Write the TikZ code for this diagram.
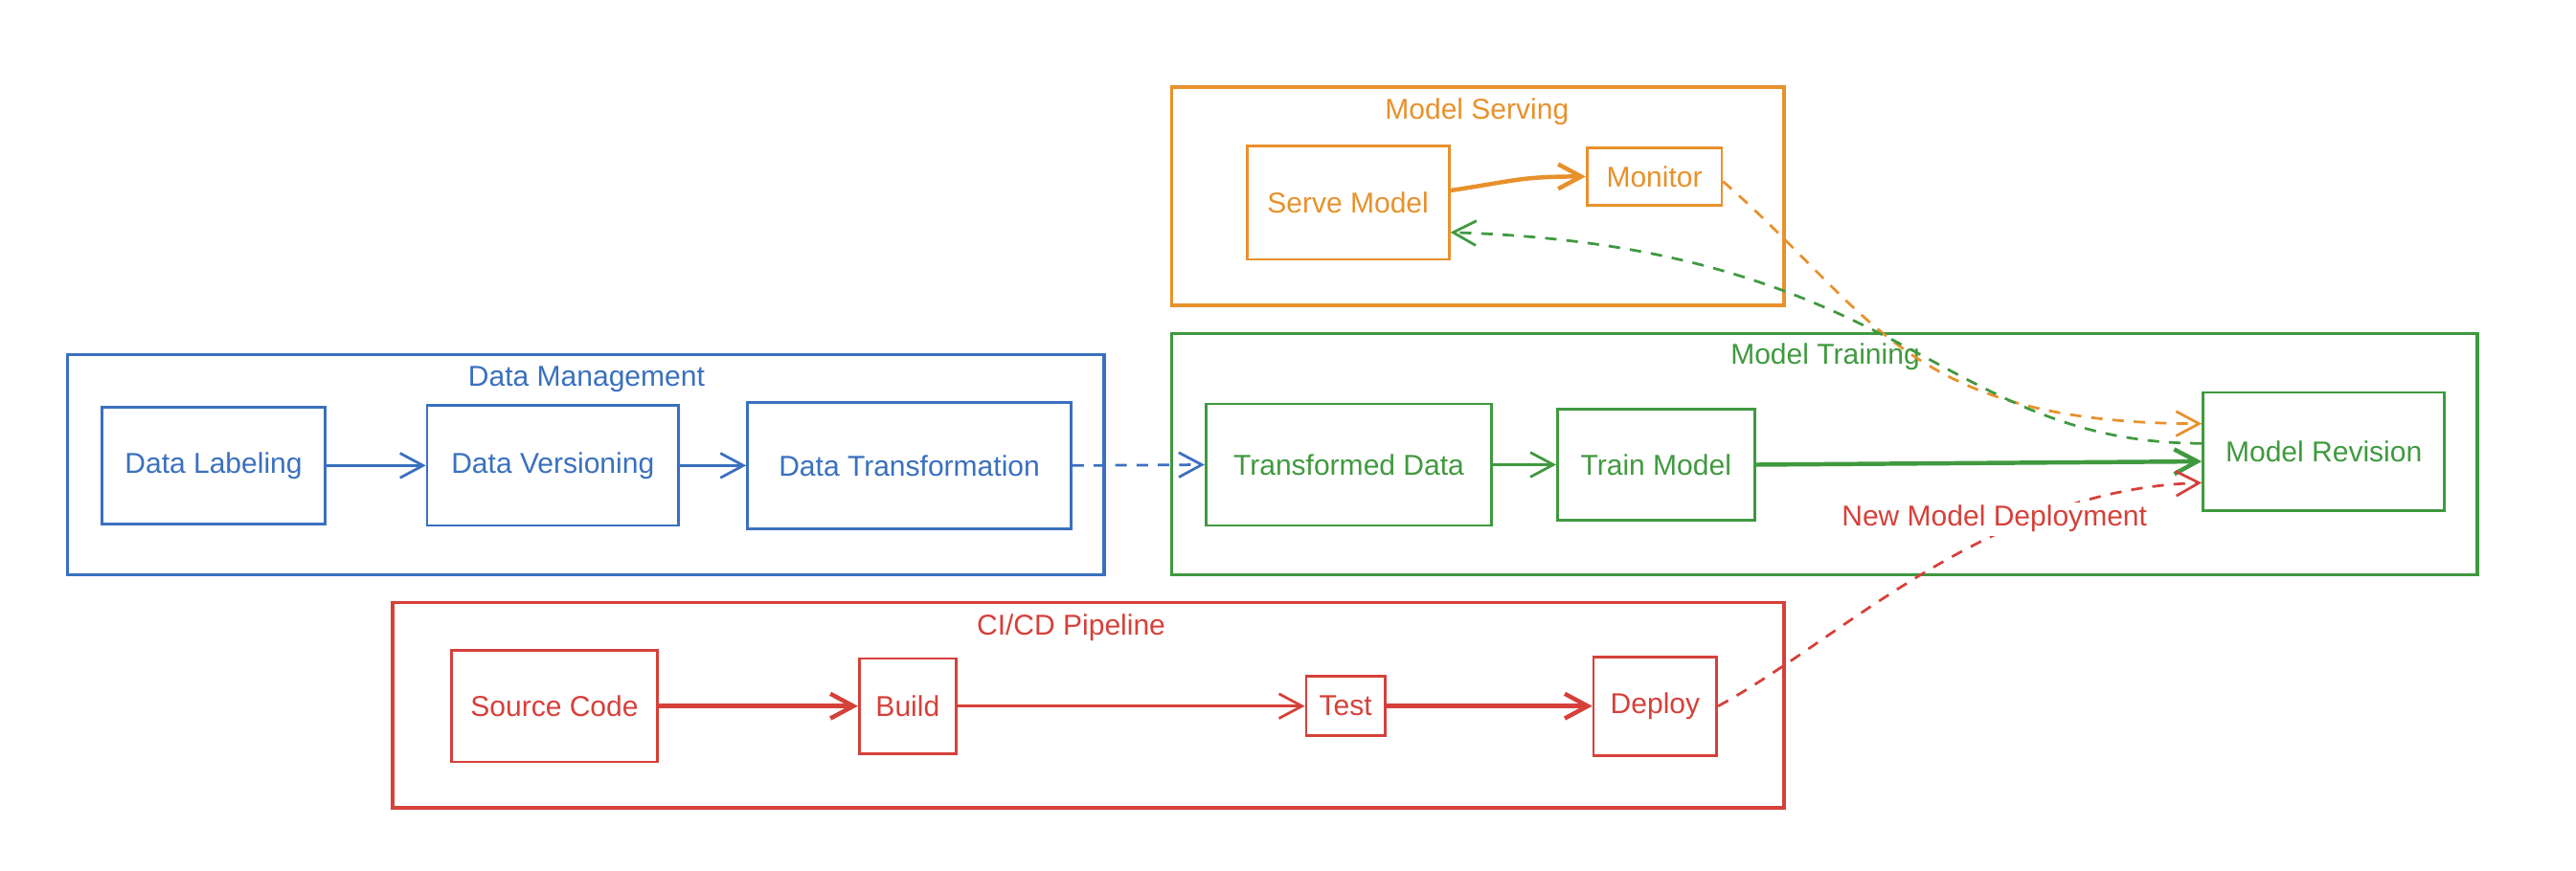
\documentclass[tikz,border=0pt]{standalone}
\usepackage{fontspec}
\setmainfont{Liberation Sans}
\usetikzlibrary{arrows.meta}
\definecolor{cblue}{HTML}{3A70BF}
\definecolor{cgreen}{HTML}{40993F}
\definecolor{corange}{HTML}{E8912C}
\definecolor{cred}{HTML}{D6403A}
\begin{document}
\begin{tikzpicture}[x=1pt,y=-1pt,
  every node/.style={font=\fontsize{17.5}{20}\selectfont, inner sep=0pt},
  frame/.style={draw, line width=1.9pt, rectangle},
  box/.style={draw, line width=1.6pt, rectangle},
  arr/.style={line width=1.6pt, -{Straight Barb[length=14pt,width=15pt]}},
  heavy/.style={line width=2.6pt, -{Straight Barb[length=14pt,width=15pt]}},
  dsh/.style={dash pattern=on 7pt off 6pt}
]
\fill[white] (0,0) rectangle (1568,530);
\useasboundingbox (0,0) rectangle (1568,530);

% frames
\node[frame, draw=cblue, minimum width=631pt, minimum height=134pt] (dmf) at (356.5,283) {};
\node[text=cblue] (dmt) at (357,231) {Data Management};
\node[frame, draw=corange, minimum width=373pt, minimum height=133pt] (msf) at (899.5,119.5) {};
\node[text=corange] (mst) at (899,68) {Model Serving};
\node[frame, draw=cgreen, minimum width=795pt, minimum height=147pt] (mtf) at (1110.5,276.5) {};
\node[text=cgreen] (mtt) at (1111,217) {Model Training};
\node[frame, draw=cred, minimum width=847pt, minimum height=125pt] (cif) at (662.5,429.5) {};
\node[text=cred] (cit) at (652,382) {CI/CD Pipeline};

% boxes
\node[box, draw=cblue, text=cblue, minimum width=136pt, minimum height=71pt] (dl) at (130,283.5) {Data Labeling};
\node[box, draw=cblue, text=cblue, minimum width=153pt, minimum height=73pt] (dv) at (336.5,283.5) {Data Versioning};
\node[box, draw=cblue, text=cblue, minimum width=197pt, minimum height=77pt] (dt) at (553.5,283.5) {Data Transformation};
\node[box, draw=cgreen, text=cgreen, minimum width=174pt, minimum height=74pt] (td) at (821,283) {Transformed Data};
\node[box, draw=cgreen, text=cgreen, minimum width=120pt, minimum height=68pt] (tm) at (1008,283) {Train Model};
\node[box, draw=cgreen, text=cgreen, minimum width=147pt, minimum height=72pt] (mr) at (1414.5,275) {Model Revision};
\node[box, draw=corange, text=corange, minimum width=123pt, minimum height=69pt] (sm) at (820.5,123.5) {Serve Model};
\node[box, draw=corange, text=corange, minimum width=82pt, minimum height=35pt] (mon) at (1007,107.5) {Monitor};
\node[box, draw=cred, text=cred, minimum width=125pt, minimum height=68pt] (sc) at (337.5,430) {Source Code};
\node[box, draw=cred, text=cred, minimum width=59pt, minimum height=58pt] (bd) at (552.5,430) {Build};
\node[box, draw=cred, text=cred, minimum width=48pt, minimum height=36pt] (ts) at (819,430) {Test};
\node[box, draw=cred, text=cred, minimum width=75pt, minimum height=60pt] (dp) at (1007.5,430) {Deploy};

% connectors
\draw[arr, cblue] (dl.east) -- (dv.west);
\draw[arr, cblue] (dv.east) -- (dt.west);
\draw[arr, cblue, dsh] (dt.east) -- (td.west);
\draw[arr, cgreen] (td.east) -- (tm.west);
\draw[heavy, cgreen] (tm.east) -- ([yshift=-6pt]mr.west);
\draw[heavy, corange] ([yshift=7.5pt]sm.east) .. controls +(40,-6) and +(-40,0) .. (mon.west);
\draw[arr, corange, dsh] ([yshift=-3pt]mon.east) .. controls (1140,190) and (1160,258) .. ([yshift=17pt]mr.west);
\draw[arr, cgreen, dsh] ([yshift=5pt]mr.west) .. controls (1180,270) and (1160,150) .. ([yshift=-18pt]sm.east);
\draw[heavy, cred] (sc.east) -- (bd.west);
\draw[arr, cred] (bd.east) -- (ts.west);
\draw[heavy, cred] (ts.east) -- (dp.west);
\draw[arr, cred, dsh] (dp.east) .. controls (1120,390) and (1210,298) .. ([yshift=-19pt]mr.west);
\node[text=cred, fill=white, inner sep=2pt] (lbl) at (1214,316) {New Model Deployment};
\end{tikzpicture}
\end{document}
